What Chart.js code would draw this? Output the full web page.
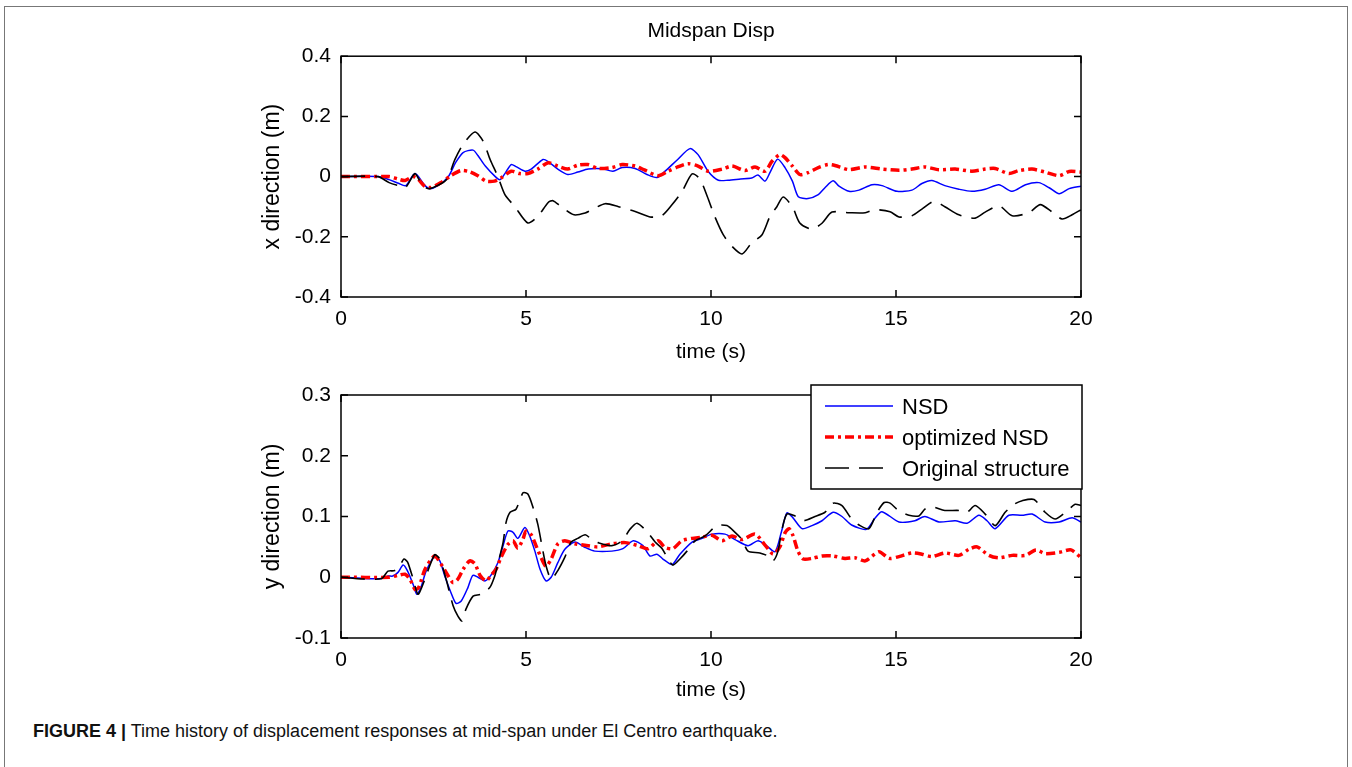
<!DOCTYPE html>
<html>
<head>
<meta charset="utf-8">
<script src="https://cdn.jsdelivr.net/npm/chart.js@4.4.1/dist/chart.umd.min.js"></script>
<style>
  html, body { margin: 0; padding: 0; background: #fff; }
  body { width: 1352px; height: 767px; position: relative; overflow: hidden; font-family: "Liberation Sans", Arial, sans-serif; }
  #frame { position: absolute; left: 4px; top: 6px; width: 1342px; height: 780px; border: 1px solid #777; }
  #c1 { position: absolute; left: 0; top: 0; }
  #c2 { position: absolute; left: 0; top: 372px; }
  #caption { position: absolute; left: 33px; top: 721px; font-size: 18px; color: #111; white-space: nowrap; }
</style>
</head>
<body>
<div id="frame"></div>
<canvas id="c1" width="1352" height="372"></canvas>
<canvas id="c2" width="1352" height="338"></canvas>
<div id="caption"><b>FIGURE 4 |</b> Time history of displacement responses at mid-span under El Centro earthquake.</div>
<script>
// ---- data: [time (s), displacement (m)] ----
const seriesNames = ['NSD', 'optimized NSD', 'Original structure'];
const xTicks = [0, 5, 10, 15, 20];
const yTicksTop = [-0.4, -0.2, 0, 0.2, 0.4];
const yTicksBottom = [-0.1, 0, 0.1, 0.2, 0.3];

// x direction
const xNsd = [[0,0],[1.0,0],[1.3,-0.01],[1.55,-0.022],[1.75,-0.03],[2.0,0.01],[2.27,-0.03],[2.4,-0.04],[2.62,-0.03],[2.9,0],[3.1,0.047],[3.3,0.08],[3.57,0.088],[3.7,0.07],[3.9,0.035],[4.17,0],[4.3,-0.01],[4.43,0.01],[4.6,0.04],[4.73,0.033],[4.97,0.018],[5.14,0.025],[5.46,0.057],[5.6,0.05],[5.86,0.025],[6.13,0.007],[6.4,0.015],[6.68,0.025],[7.05,0.026],[7.35,0.018],[7.6,0.03],[7.95,0.027],[8.27,0.007],[8.54,-0.003],[8.76,0.018],[9.1,0.057],[9.43,0.093],[9.65,0.073],[9.92,0.018],[10.2,-0.012],[10.46,-0.012],[10.8,-0.008],[11.1,-0.005],[11.27,0.005],[11.46,-0.015],[11.6,0.015],[11.8,0.058],[12.0,0.03],[12.2,-0.015],[12.36,-0.067],[12.62,-0.073],[12.9,-0.06],[13.08,-0.037],[13.3,-0.014],[13.46,-0.032],[13.73,-0.049],[14.0,-0.045],[14.35,-0.027],[14.62,-0.03],[15.03,-0.049],[15.43,-0.045],[15.7,-0.023],[15.97,-0.013],[16.32,-0.03],[16.7,-0.042],[17.05,-0.049],[17.41,-0.042],[17.78,-0.027],[18.14,-0.049],[18.5,-0.027],[18.86,-0.02],[19.14,-0.037],[19.41,-0.057],[19.68,-0.04],[20,-0.032]];
const xOpt = [[0,0],[1.3,0],[1.54,-0.008],[1.73,-0.013],[1.95,0],[2.08,-0.008],[2.27,-0.033],[2.43,-0.036],[2.7,-0.02],[2.97,0.003],[3.24,0.02],[3.48,0.016],[3.7,0.003],[3.92,-0.015],[4.15,-0.015],[4.32,-0.005],[4.6,0.018],[4.83,0.01],[5.05,0.01],[5.32,0.025],[5.6,0.046],[5.86,0.035],[6.13,0.025],[6.4,0.038],[6.67,0.04],[6.95,0.027],[7.32,0.03],[7.6,0.04],[7.95,0.035],[8.2,0.022],[8.57,0.003],[8.84,0.018],[9.1,0.032],[9.38,0.043],[9.65,0.035],[9.92,0.018],[10.3,0.025],[10.57,0.035],[10.92,0.02],[11.19,0.032],[11.46,0.018],[11.65,0.051],[11.86,0.073],[12.0,0.063],[12.2,0.035],[12.4,0.007],[12.62,0.013],[12.9,0.03],[13.16,0.04],[13.35,0.037],[13.73,0.023],[14.17,0.032],[14.62,0.025],[15.08,0.021],[15.43,0.025],[15.78,0.032],[16.16,0.023],[16.6,0.025],[17.05,0.018],[17.41,0.025],[17.68,0.027],[18.05,0.01],[18.32,0.02],[18.68,0.025],[19.03,0.015],[19.41,0.003],[19.68,0.017],[20,0.015]];
const xOrig = [[0,0],[1.0,0],[1.3,-0.02],[1.55,-0.03],[1.75,-0.035],[2.0,0.01],[2.2,-0.03],[2.4,-0.04],[2.85,-0.01],[3.08,0.057],[3.3,0.107],[3.62,0.148],[3.84,0.118],[4.03,0.057],[4.24,0],[4.43,-0.06],[4.7,-0.1],[5.05,-0.154],[5.32,-0.132],[5.6,-0.086],[5.73,-0.08],[5.95,-0.1],[6.3,-0.127],[6.6,-0.121],[6.78,-0.11],[7.14,-0.09],[7.5,-0.1],[7.95,-0.116],[8.35,-0.134],[8.67,-0.13],[8.95,-0.093],[9.22,-0.049],[9.49,0.009],[9.7,-0.008],[9.9,-0.066],[10.1,-0.132],[10.33,-0.193],[10.57,-0.232],[10.84,-0.257],[11.1,-0.22],[11.38,-0.193],[11.6,-0.13],[11.78,-0.1],[11.95,-0.068],[12.2,-0.1],[12.4,-0.154],[12.72,-0.175],[13.0,-0.155],[13.27,-0.118],[13.73,-0.12],[14.17,-0.12],[14.43,-0.11],[14.84,-0.117],[15.08,-0.134],[15.43,-0.13],[15.7,-0.108],[16.03,-0.082],[16.32,-0.1],[16.7,-0.127],[17.14,-0.138],[17.41,-0.118],[17.78,-0.097],[18.14,-0.13],[18.59,-0.12],[18.9,-0.093],[19.2,-0.116],[19.49,-0.141],[19.76,-0.127],[20,-0.11]];

// y direction
const yNsd = [[0,0],[0.6,-0.002],[1.1,-0.002],[1.27,0.002],[1.4,0.002],[1.54,0.008],[1.68,0.02],[1.8,0.01],[1.95,-0.012],[2.05,-0.028],[2.16,-0.017],[2.3,0.01],[2.53,0.034],[2.67,0.027],[2.8,0.003],[2.97,-0.025],[3.11,-0.043],[3.25,-0.039],[3.43,-0.017],[3.56,0.003],[3.7,0],[3.89,-0.006],[4.05,0.003],[4.24,0.024],[4.38,0.052],[4.51,0.076],[4.65,0.074],[4.78,0.064],[4.97,0.082],[5.1,0.068],[5.24,0.043],[5.38,0.013],[5.54,-0.006],[5.68,0],[5.86,0.024],[6.05,0.046],[6.32,0.058],[6.6,0.049],[6.86,0.043],[7.32,0.043],[7.62,0.047],[7.9,0.06],[8.16,0.052],[8.35,0.035],[8.54,0.038],[8.7,0.03],[8.95,0.021],[9.16,0.038],[9.49,0.058],[9.76,0.064],[10.03,0.071],[10.38,0.071],[10.65,0.062],[11.0,0.052],[11.27,0.06],[11.5,0.052],[11.73,0.042],[11.9,0.074],[12.05,0.106],[12.2,0.099],[12.46,0.08],[12.73,0.085],[13.0,0.093],[13.3,0.107],[13.54,0.1],[13.8,0.086],[14.2,0.079],[14.43,0.097],[14.62,0.108],[15.08,0.091],[15.51,0.093],[15.78,0.1],[16.16,0.091],[16.6,0.093],[16.92,0.089],[17.24,0.102],[17.46,0.093],[17.68,0.08],[18.05,0.102],[18.41,0.102],[18.68,0.104],[19.03,0.091],[19.41,0.091],[19.76,0.098],[20,0.091]];
const yOpt = [[0,0],[1.3,0],[1.54,0.003],[1.73,0.005],[1.86,-0.003],[2.0,-0.02],[2.1,-0.017],[2.27,0.013],[2.53,0.035],[2.7,0.022],[2.89,0.003],[3.03,-0.009],[3.16,-0.003],[3.3,0.013],[3.48,0.027],[3.62,0.022],[3.76,0.003],[3.92,-0.006],[4.05,0.003],[4.19,0.013],[4.32,0.032],[4.51,0.054],[4.65,0.06],[4.78,0.048],[4.92,0.063],[5.0,0.076],[5.14,0.07],[5.27,0.052],[5.41,0.032],[5.54,0.018],[5.68,0.03],[5.86,0.055],[6.05,0.06],[6.32,0.055],[6.68,0.052],[6.95,0.05],[7.32,0.055],[7.68,0.057],[8.03,0.052],[8.3,0.047],[8.57,0.06],[8.76,0.049],[8.97,0.047],[9.21,0.06],[9.49,0.064],[9.76,0.066],[10.03,0.069],[10.3,0.06],[10.57,0.068],[10.84,0.062],[11.19,0.071],[11.46,0.053],[11.68,0.038],[11.86,0.05],[12.0,0.073],[12.11,0.08],[12.22,0.068],[12.35,0.043],[12.49,0.03],[12.73,0.031],[13.0,0.035],[13.3,0.035],[13.62,0.031],[13.89,0.032],[14.17,0.027],[14.54,0.042],[14.81,0.031],[15.08,0.034],[15.43,0.04],[15.7,0.038],[15.97,0.034],[16.32,0.04],[16.7,0.036],[16.97,0.046],[17.19,0.05],[17.51,0.036],[17.78,0.032],[18.14,0.036],[18.5,0.036],[18.78,0.045],[19.03,0.039],[19.41,0.041],[19.73,0.045],[20,0.032]];
const yOrig = [[0,0],[0.6,-0.003],[1.1,-0.002],[1.27,0.01],[1.45,0.011],[1.6,0.02],[1.7,0.03],[1.8,0.025],[1.95,-0.003],[2.08,-0.028],[2.2,-0.014],[2.53,0.037],[2.67,0.03],[2.84,-0.003],[3.03,-0.047],[3.16,-0.064],[3.27,-0.072],[3.38,-0.052],[3.57,-0.031],[3.78,-0.028],[4.02,-0.017],[4.16,0.003],[4.24,0.022],[4.38,0.057],[4.46,0.09],[4.57,0.107],[4.73,0.112],[4.92,0.139],[5.05,0.137],[5.19,0.115],[5.32,0.087],[5.43,0.052],[5.54,0.019],[5.68,-0.003],[5.86,0.011],[6.05,0.033],[6.22,0.058],[6.4,0.064],[6.6,0.07],[6.78,0.062],[6.95,0.057],[7.32,0.052],[7.6,0.06],[7.81,0.079],[8.0,0.089],[8.27,0.075],[8.49,0.058],[8.68,0.047],[8.84,0.03],[8.97,0.02],[9.16,0.03],[9.35,0.043],[9.57,0.06],[9.84,0.068],[10.16,0.085],[10.43,0.085],[10.65,0.074],[10.84,0.062],[11.0,0.043],[11.32,0.04],[11.54,0.035],[11.68,0.027],[11.81,0.043],[11.92,0.079],[12.05,0.104],[12.27,0.101],[12.49,0.093],[12.81,0.1],[13.08,0.107],[13.3,0.122],[13.54,0.118],[13.8,0.096],[14.03,0.085],[14.27,0.08],[14.49,0.107],[14.68,0.123],[14.84,0.122],[15.08,0.109],[15.35,0.102],[15.62,0.101],[15.78,0.112],[15.97,0.116],[16.32,0.11],[16.7,0.11],[16.92,0.107],[17.14,0.118],[17.41,0.104],[17.68,0.085],[17.95,0.107],[18.19,0.12],[18.41,0.126],[18.73,0.128],[19.03,0.107],[19.3,0.096],[19.62,0.109],[19.84,0.12],[20,0.118]];

const FONT = "'Liberation Sans', Arial, Helvetica, sans-serif";
Chart.defaults.font.family = FONT;
Chart.defaults.color = '#000';

const styles = [
  { borderColor: '#0000ff', borderWidth: 1.5, borderDash: [], order: 2 },
  { borderColor: '#ff0000', borderWidth: 3.5, borderDash: [9, 4, 3, 4], order: 1 },
  { borderColor: '#000000', borderWidth: 1.6, borderDash: [24, 10], order: 0 }
];

function toPoints(pairs) {
  return pairs.map(p => ({ x: p[0], y: p[1] }));
}

function buildDatasets(list) {
  return list.map((pairs, i) => Object.assign({
    label: seriesNames[i],
    data: toPoints(pairs),
    pointRadius: 0,
    tension: 0.25,
    fill: false
  }, styles[i]));
}

// box around the axes + inward tick marks on all four sides
const frameTicks = {
  id: 'frameTicks',
  afterDatasetsDraw(chart) {
    const { ctx, chartArea: a, scales: { x, y } } = chart;
    const len = 7;
    ctx.save();
    ctx.strokeStyle = '#000';
    ctx.lineWidth = 1.5;
    ctx.setLineDash([]);
    ctx.strokeRect(a.left, a.top, a.right - a.left, a.bottom - a.top);
    ctx.beginPath();
    x.ticks.forEach(t => {
      const px = x.getPixelForValue(t.value);
      ctx.moveTo(px, a.bottom); ctx.lineTo(px, a.bottom - len);
      ctx.moveTo(px, a.top); ctx.lineTo(px, a.top + len);
    });
    y.ticks.forEach(t => {
      const py = y.getPixelForValue(t.value);
      ctx.moveTo(a.left, py); ctx.lineTo(a.left + len, py);
      ctx.moveTo(a.right, py); ctx.lineTo(a.right - len, py);
    });
    ctx.stroke();
    ctx.restore();
  }
};

// MATLAB style legend box, top right, overlapping the axes edge
const boxLegend = {
  id: 'boxLegend',
  afterDraw(chart) {
    const { ctx, chartArea: a } = chart;
    const w = 271, h = 104;
    const left = a.right - w + 1, top = a.top - 10;
    ctx.save();
    ctx.fillStyle = '#fff';
    ctx.fillRect(left, top, w, h);
    ctx.strokeStyle = '#000';
    ctx.lineWidth = 1.5;
    ctx.strokeRect(left, top, w, h);
    ctx.font = '22px ' + FONT;
    ctx.textBaseline = 'middle';
    chart.data.datasets.forEach((ds, i) => {
      const yy = top + 21 + i * 31;
      ctx.strokeStyle = ds.borderColor;
      ctx.lineWidth = ds.borderWidth;
      ctx.setLineDash(ds.borderDash);
      ctx.beginPath();
      ctx.moveTo(left + 14, yy);
      ctx.lineTo(left + 82, yy);
      ctx.stroke();
      ctx.setLineDash([]);
      ctx.fillStyle = '#000';
      ctx.fillText(ds.label, left + 91, yy + 2);
    });
    ctx.restore();
  }
};

function makeChart(id, datasets, yTicks, yTitle, opt) {
  return new Chart(document.getElementById(id), {
    type: 'line',
    data: { datasets: datasets },
    plugins: opt.legend ? [frameTicks, boxLegend] : [frameTicks],
    options: {
      responsive: false,
      animation: false,
      devicePixelRatio: 1,
      layout: { padding: { left: 258, right: 271, top: opt.padTop, bottom: 0 } },
      plugins: {
        legend: { display: false },
        tooltip: { enabled: false },
        title: {
          display: !!opt.title,
          text: opt.title || '',
          fullSize: false,
          font: { size: 21, weight: 'normal' },
          padding: { top: 9, bottom: 12 }
        }
      },
      scales: {
        x: {
          type: 'linear',
          min: 0, max: 20,
          afterBuildTicks: s => { s.ticks = xTicks.map(v => ({ value: v })); },
          afterFit: s => { s.height = opt.xHeight; },
          grid: { display: false, drawTicks: false },
          border: { display: false },
          ticks: { font: { size: 21 }, padding: 10, maxRotation: 0, callback: v => String(v) },
          title: { display: true, text: 'time (s)', font: { size: 21 }, padding: { top: 4, bottom: 7 } }
        },
        y: {
          type: 'linear',
          min: yTicks[0], max: yTicks[yTicks.length - 1],
          afterBuildTicks: s => { s.ticks = yTicks.map(v => ({ value: v })); },
          afterFit: s => { s.width = 83; },
          grid: { display: false, drawTicks: false },
          border: { display: false },
          ticks: { font: { size: 21 }, padding: 10, callback: v => String(v) },
          title: { display: true, text: yTitle, font: { size: 23 }, padding: { top: 1, bottom: 2 } }
        }
      }
    }
  });
}

makeChart('c1', buildDatasets([xNsd, xOpt, xOrig]), yTicksTop, 'x direction (m)',
  { title: 'Midspan Disp', padTop: 10, xHeight: 75, legend: false });
makeChart('c2', buildDatasets([yNsd, yOpt, yOrig]), yTicksBottom, 'y direction (m)',
  { padTop: 23, xHeight: 72, legend: true });
</script>
</body>
</html>
